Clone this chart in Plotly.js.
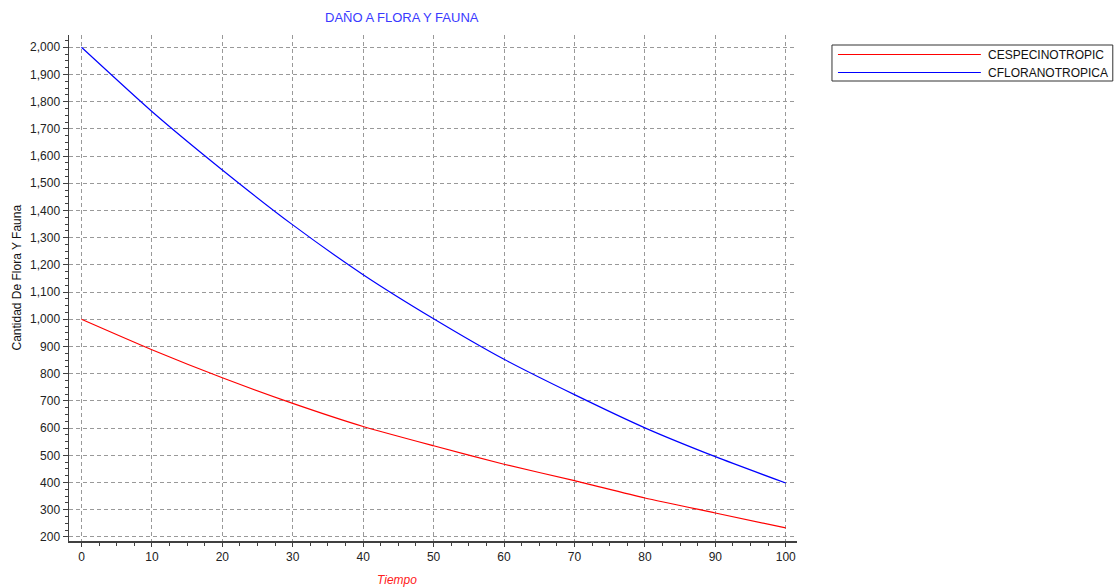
<!DOCTYPE html>
<html>
<head>
<meta charset="utf-8">
<script src="https://cdn.plot.ly/plotly-3.0.1.min.js"></script>
<style>
  html, body { margin: 0; padding: 0; background: #fff; }
  #chart { width: 1119px; height: 588px; }
</style>
</head>
<body>
<div id="chart"></div>
<script>
// ---- Data ----
const tiempo = [0, 10, 20, 30, 40, 50, 60, 70, 80, 90, 100];
const cespecinotropic = [1000, 888, 785, 691, 606, 535, 467, 407, 343, 288, 233];
const cfloranotropica = [2000, 1764, 1549, 1347, 1164, 1002, 853, 723, 601, 495, 398];
const seriesNames = ["CESPECINOTROPIC", "CFLORANOTROPICA"];
const seriesColors = ["#ff0000", "#0000ff"];
const chartTitle = "DAÑO A FLORA Y FAUNA";
const xTitle = "Tiempo";
const yTitle = "Cantidad De Flora Y Fauna";

// ---- Layout geometry (pixels) ----
const W = 1119, H = 588;
const plotL = 68.5, plotR = 797, plotT = 35, plotB = 541;
const pw = plotR - plotL, ph = plotB - plotT;
const px = x => (x - plotL) / pw;
const py = y => (plotB - y) / ph;

const font = "Liberation Sans, Arial, sans-serif";

const traces = [
  { x: tiempo, y: cespecinotropic, name: seriesNames[0], type: "scatter", mode: "lines",
    line: { color: seriesColors[0], width: 1.2, shape: "spline", smoothing: 0.6 }, showlegend: false },
  { x: tiempo, y: cfloranotropica, name: seriesNames[1], type: "scatter", mode: "lines",
    line: { color: seriesColors[1], width: 1.2, shape: "spline", smoothing: 0.6 }, showlegend: false }
];

// custom legend (box, long line samples, labels)
const legBox = { x0: 832, x1: 1113, y0: 45, y1: 81 };
const rowY = [54.5, 72.5];
const shapes = [
  { type: "rect", xref: "paper", yref: "paper",
    x0: px(legBox.x0), x1: px(legBox.x1), y0: py(legBox.y1), y1: py(legBox.y0),
    line: { color: "#333333", width: 1 }, fillcolor: "#ffffff", layer: "above" }
];
const annotations = [
  { text: xTitle, xref: "paper", yref: "paper", x: px(397), y: py(580),
    xanchor: "center", yanchor: "middle", showarrow: false,
    font: { family: font, size: 12, color: "#ff2020", style: "italic" } },
  { text: yTitle, xref: "paper", yref: "paper", x: px(16), y: py(278),
    xanchor: "center", yanchor: "middle", showarrow: false, textangle: -90,
    font: { family: font, size: 12, color: "#111111" } }
];
seriesNames.forEach((n, i) => {
  shapes.push({ type: "line", xref: "paper", yref: "paper",
    x0: px(838), x1: px(981), y0: py(rowY[i]), y1: py(rowY[i]),
    line: { color: seriesColors[i], width: 1.2 }, layer: "above" });
  annotations.push({ text: n, xref: "paper", yref: "paper", x: px(986), y: py(rowY[i]),
    xanchor: "left", yanchor: "middle", showarrow: false,
    font: { family: font, size: 12, color: "#111111" } });
});

const layout = {
  width: W, height: H,
  paper_bgcolor: "#ffffff", plot_bgcolor: "#ffffff",
  margin: { l: plotL, r: W - plotR, t: plotT, b: H - plotB, pad: 0 },
  title: { text: chartTitle, xref: "paper", x: px(401.5), xanchor: "center",
           yref: "container", y: 1 - 17.5 / H, yanchor: "middle",
           font: { family: font, size: 13, color: "#3a3aff" } },
  showlegend: false,
  xaxis: {
    range: [-1.77, 101.6], tickmode: "linear", tick0: 0, dtick: 10,
    showline: true, linecolor: "#404040", linewidth: 1.5,
    ticks: "outside", ticklen: 4, tickcolor: "#404040", tickwidth: 1,
    showgrid: true, gridcolor: "#999999", griddash: "4px,3px", gridwidth: 1,
    zeroline: false,
    tickfont: { family: font, size: 12, color: "#222222" },
    minor: { dtick: 2.5, tick0: 0, ticks: "outside", ticklen: 3, tickcolor: "#404040", showgrid: false }
  },
  yaxis: {
    range: [185, 2045], tickmode: "linear", tick0: 200, dtick: 100,
    tickformat: ",d",
    showline: true, linecolor: "#404040", linewidth: 1.5,
    ticks: "outside", ticklen: 5, tickcolor: "#404040", tickwidth: 1,
    showgrid: true, gridcolor: "#999999", griddash: "4px,3px", gridwidth: 1,
    zeroline: false,
    tickfont: { family: font, size: 12, color: "#222222" },
    minor: { dtick: 25, tick0: 200, ticks: "outside", ticklen: 3, tickcolor: "#404040", showgrid: false }
  },
  shapes: shapes,
  annotations: annotations
};

Plotly.newPlot("chart", traces, layout, { displayModeBar: false, staticPlot: true });
</script>
</body>
</html>
